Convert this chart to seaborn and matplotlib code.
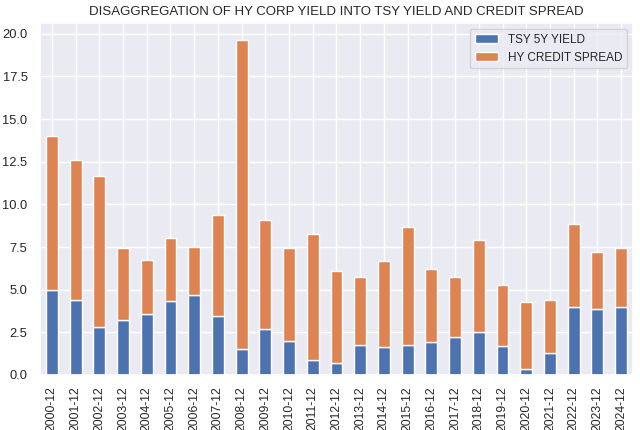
import matplotlib
matplotlib.use("Agg")
import matplotlib.pyplot as plt
import seaborn as sns
import pandas as pd

periods = ["2000-12", "2001-12", "2002-12", "2003-12", "2004-12", "2005-12", "2006-12",
           "2007-12", "2008-12", "2009-12", "2010-12", "2011-12", "2012-12", "2013-12",
           "2014-12", "2015-12", "2016-12", "2017-12", "2018-12", "2019-12", "2020-12",
           "2021-12", "2022-12", "2023-12", "2024-12"]
tsy_5y = [5.0, 4.4, 2.8, 3.25, 3.6, 4.35, 4.7, 3.45, 1.55, 2.7, 2.0, 0.85, 0.72, 1.75,
          1.65, 1.76, 1.93, 2.2, 2.5, 1.7, 0.36, 1.26, 3.99, 3.85, 4.0]
hy_total = [14.0, 12.6, 11.65, 7.45, 6.75, 8.0, 7.5, 9.4, 19.65, 9.1, 7.45, 8.25, 6.1, 5.75,
            6.7, 8.7, 6.2, 5.75, 7.9, 5.3, 4.25, 4.4, 8.83, 7.22, 7.43]
hy_spread = [round(t - s, 2) for t, s in zip(hy_total, tsy_5y)]

sns.set_theme()
plt.rcParams['font.family'] = ['Liberation Sans', 'DejaVu Sans']
df = pd.DataFrame({"TSY 5Y YIELD": tsy_5y, "HY CREDIT SPREAD": hy_spread}, index=periods)

fig, ax = plt.subplots(figsize=(6.4, 4.3), dpi=100)
df.plot(kind="bar", stacked=True, ax=ax)
ax.set_title("DISAGGREGATION OF HY CORP YIELD INTO TSY YIELD AND CREDIT SPREAD", fontsize=9.5, pad=6)
ax.set_xlabel("")
ax.tick_params(axis="x", labelsize=8.8, pad=2)
ax.tick_params(axis="y", labelsize=9.3, pad=3)
ax.legend(loc="upper right", fontsize=8.5)
fig.subplots_adjust(left=0.0625, right=0.989, top=0.9465, bottom=0.128)
fig.savefig("out.png", dpi=100)
